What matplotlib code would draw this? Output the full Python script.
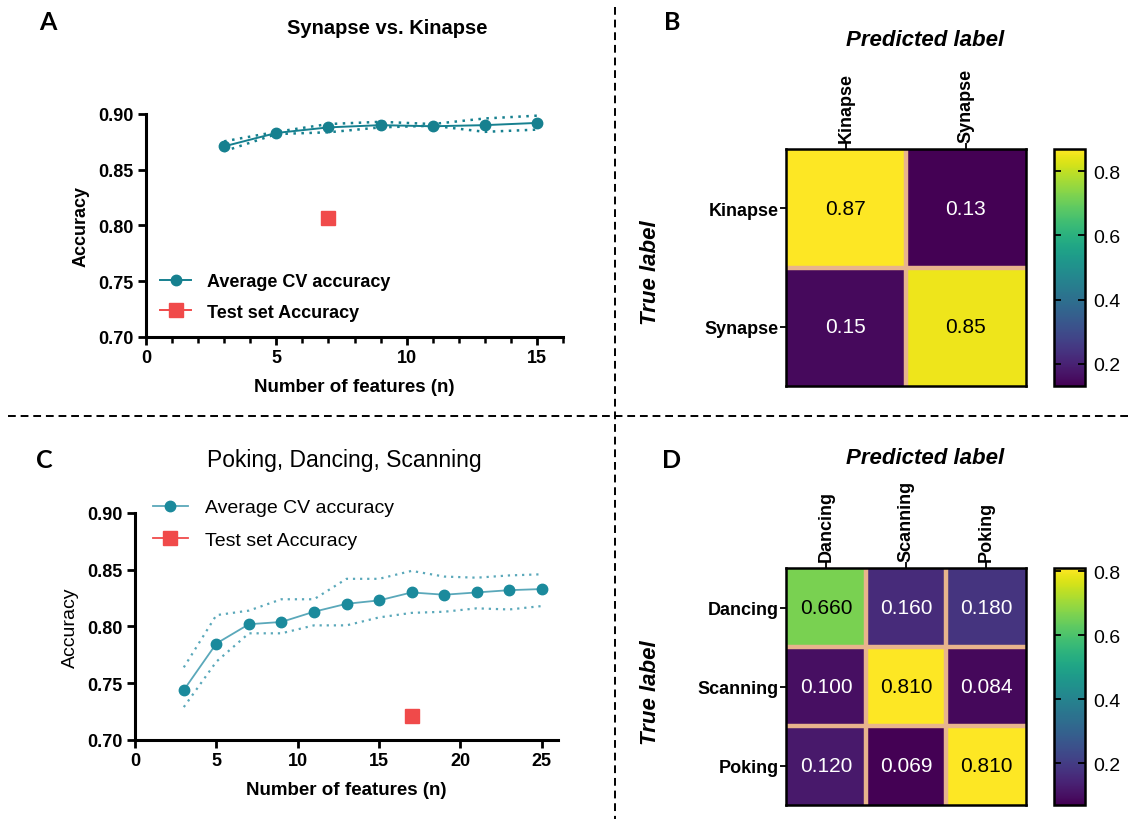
import matplotlib
matplotlib.use("Agg")
import matplotlib.pyplot as plt
import numpy as np
from matplotlib.lines import Line2D
from matplotlib.ticker import MultipleLocator

plt.rcParams['font.family'] = ['Liberation Sans', 'DejaVu Sans']

# ---------------- data ----------------
A_n = [3, 5, 7, 9, 11, 13, 15]
A_cv = [0.871, 0.883, 0.888, 0.890, 0.889, 0.890, 0.892]
A_upper = [0.8755, 0.884, 0.891, 0.893, 0.891, 0.896, 0.8985]
A_lower = [0.8666, 0.882, 0.8836, 0.888, 0.8895, 0.884, 0.886]
A_test_n = [7]
A_test = [0.807]

C_n = [3, 5, 7, 9, 11, 13, 15, 17, 19, 21, 23, 25]
C_cv = [0.744, 0.785, 0.802, 0.804, 0.813, 0.820, 0.823, 0.830, 0.828, 0.830, 0.832, 0.833]
C_upper = [0.764, 0.810, 0.814, 0.824, 0.824, 0.842, 0.842, 0.849, 0.844, 0.843, 0.845, 0.846]
C_lower = [0.729, 0.769, 0.794, 0.794, 0.801, 0.801, 0.808, 0.812, 0.813, 0.816, 0.815, 0.818]
C_test_n = [17]
C_test = [0.721]

B_labels = ["Kinapse", "Synapse"]
B_matrix = [[0.87, 0.13],
            [0.15, 0.85]]
D_labels = ["Dancing", "Scanning", "Poking"]
D_matrix = [[0.660, 0.160, 0.180],
            [0.100, 0.810, 0.084],
            [0.120, 0.069, 0.810]]
cbar_ticks = [0.2, 0.4, 0.6, 0.8]

legend_cv = "Average CV accuracy"
legend_test = "Test set Accuracy"

# ---------------- layout helpers ----------------
W, H = 1130, 820
fig = plt.figure(figsize=(W / 100, H / 100), dpi=100)


def px_axes(x0, y0, x1, y1):
    return fig.add_axes([x0 / W, 1 - y1 / H, (x1 - x0) / W, (y1 - y0) / H])


def ftext(x, y, s, **kw):
    fig.text(x / W, 1 - y / H, s, **kw)


TEAL_A = "#16808f"
TEAL_C_LINE = "#5aa8ba"
TEAL_C_MARK = "#1b8a9c"
RED = "#f04a4a"


def style_line_axes(ax, bold=True):
    for s in ["top", "right"]:
        ax.spines[s].set_visible(False)
    for s in ["left", "bottom"]:
        ax.spines[s].set_linewidth(2.2)
    ax.tick_params(which="major", width=2.0, length=6, direction="out",
                   labelsize=13, pad=3)
    ax.tick_params(which="minor", width=1.8, length=4, direction="out")
    for lab in ax.get_xticklabels() + ax.get_yticklabels():
        lab.set_fontweight("bold" if bold else "normal")


# ---------------- Panel A ----------------
axA = px_axes(146, 115, 563, 338)
axA.plot(A_n, A_upper, color=TEAL_A, lw=1.8, ls=(0, (1, 2.2)))
axA.plot(A_n, A_lower, color=TEAL_A, lw=1.8, ls=(0, (1, 2.2)))
axA.plot(A_n, A_cv, color=TEAL_A, lw=1.4, marker="o", ms=7.5,
         label=legend_cv)
axA.plot(A_test_n, A_test, color=RED, lw=1.4, marker="s", ms=9.5,
         ls="-", label=legend_test)
axA.set_xlim(0, 16)
axA.set_ylim(0.70, 0.90)
axA.xaxis.set_major_locator(MultipleLocator(5))
axA.xaxis.set_minor_locator(MultipleLocator(1))
axA.set_yticks([0.70, 0.75, 0.80, 0.85, 0.90])
axA.set_yticklabels(["0.70", "0.75", "0.80", "0.85", "0.90"])
style_line_axes(axA, bold=True)
axA.set_xlabel("Number of features (n)", fontsize=13.5, fontweight="bold",
               labelpad=8)
axA.set_ylabel("Accuracy", fontsize=13, fontweight="bold", labelpad=6)
axA.legend(loc="lower left", bbox_to_anchor=(-0.005, 0.0),
           frameon=False, prop={"weight": "bold", "size": 13},
           handlelength=1.7, labelspacing=0.75, handletextpad=0.9)

ftext(387, 28, "Synapse vs. Kinapse", fontsize=14.5, fontweight="bold",
      ha="center", va="center")
ftext(48, 22, "A", fontsize=18, fontweight="bold", ha="center", va="center",
      family=["Lato", "DejaVu Sans"])

# ---------------- Panel C ----------------
axC = px_axes(135, 514, 558, 741)
axC.plot(C_n, C_upper, color=TEAL_C_LINE, lw=1.6, ls=(0, (1, 2.2)))
axC.plot(C_n, C_lower, color=TEAL_C_LINE, lw=1.6, ls=(0, (1, 2.2)))
axC.plot(C_n, C_cv, color=TEAL_C_LINE, lw=1.3, marker="o", ms=7.5,
         mfc=TEAL_C_MARK, mec=TEAL_C_MARK, label=legend_cv)
axC.plot(C_test_n, C_test, color=RED, lw=1.3, marker="s", ms=10.5,
         ls="-", label=legend_test)
axC.set_xlim(0, 26)
axC.set_ylim(0.70, 0.90)
axC.set_xticks([0, 5, 10, 15, 20, 25])
axC.set_yticks([0.70, 0.75, 0.80, 0.85, 0.90])
axC.set_yticklabels(["0.70", "0.75", "0.80", "0.85", "0.90"])
style_line_axes(axC, bold=True)
axC.set_xlabel("Number of features (n)", fontsize=13.5, fontweight="bold",
               labelpad=8)
axC.set_ylabel("Accuracy", fontsize=14, labelpad=6)
axC.legend(loc="upper left", bbox_to_anchor=(0.0, 1.14), frameon=False,
           prop={"size": 14}, handlelength=1.8, labelspacing=0.78,
           handletextpad=0.9)

ftext(344, 460, "Poking, Dancing, Scanning", fontsize=16.5, ha="center",
      va="center")
ftext(44, 461, "C", fontsize=18, fontweight="bold", ha="center",
      va="center", family=["Lato", "DejaVu Sans"])


# ---------------- heatmaps ----------------
def heatmap(box, cbox, matrix, labels, fmt):
    m = np.array(matrix)
    vmin, vmax = m.min(), m.max()
    ax = px_axes(*box)
    im = ax.imshow(m, cmap="viridis", vmin=vmin, vmax=vmax, aspect="auto")
    n = m.shape[0]
    for k in range(1, n):
        ax.axhline(k - 0.5, color="#e8b48c", lw=3.2)
        ax.axvline(k - 0.5, color="#e8b48c", lw=3.2)
    mid = (vmin + vmax) / 2
    for i in range(n):
        for j in range(n):
            v = m[i, j]
            ax.text(j, i, fmt.format(v), ha="center", va="center",
                    fontsize=15, color="white" if v < mid else "black")
    ax.set_xticks(range(n))
    ax.set_yticks(range(n))
    ax.set_xticklabels(labels, rotation=90, fontsize=13, fontweight="bold")
    ax.set_yticklabels(labels, fontsize=13, fontweight="bold")
    ax.xaxis.tick_top()
    ax.tick_params(axis="both", length=4, width=1.3, pad=1)
    for s in ax.spines.values():
        s.set_linewidth(1.8)
    cax = px_axes(*cbox)
    cb = fig.colorbar(im, cax=cax)
    cb.set_ticks(cbar_ticks)
    cb.ax.tick_params(direction="in", length=5, width=1.3, labelsize=14,
                      right=True, left=True, pad=6)
    cb.outline.set_linewidth(1.8)
    return ax


heatmap((786, 150, 1026, 387), (1054, 150, 1085, 387), B_matrix, B_labels,
        "{:.2f}")
heatmap((786, 569, 1026, 806), (1054, 569, 1085, 806), D_matrix, D_labels,
        "{:.3f}")

for (py, tl_y) in [(40, 273), (458, 693)]:
    ftext(925, py, "Predicted label", fontsize=16, fontweight="bold",
          style="italic", ha="center", va="center")
    ftext(651, tl_y, "True label", fontsize=16, fontweight="bold",
          style="italic", ha="center", va="center", rotation=90)

ftext(672, 22, "B", fontsize=18, fontweight="bold", ha="center",
      va="center", family=["Lato", "DejaVu Sans"])
ftext(672, 461, "D", fontsize=18, fontweight="bold", ha="center",
      va="center", family=["Lato", "DejaVu Sans"])

# ---------------- dashed dividers ----------------
fig.add_artist(Line2D([615 / W, 615 / W], [1 - 8 / H, 0], color="black",
                      lw=1.4, ls=(0, (4, 2.5)), transform=fig.transFigure))
fig.add_artist(Line2D([8 / W, 1], [1 - 417 / H, 1 - 417 / H], color="black",
                      lw=1.4, ls=(0, (4, 2.5)), transform=fig.transFigure))

fig.savefig("out.png", dpi=100, facecolor="white")
